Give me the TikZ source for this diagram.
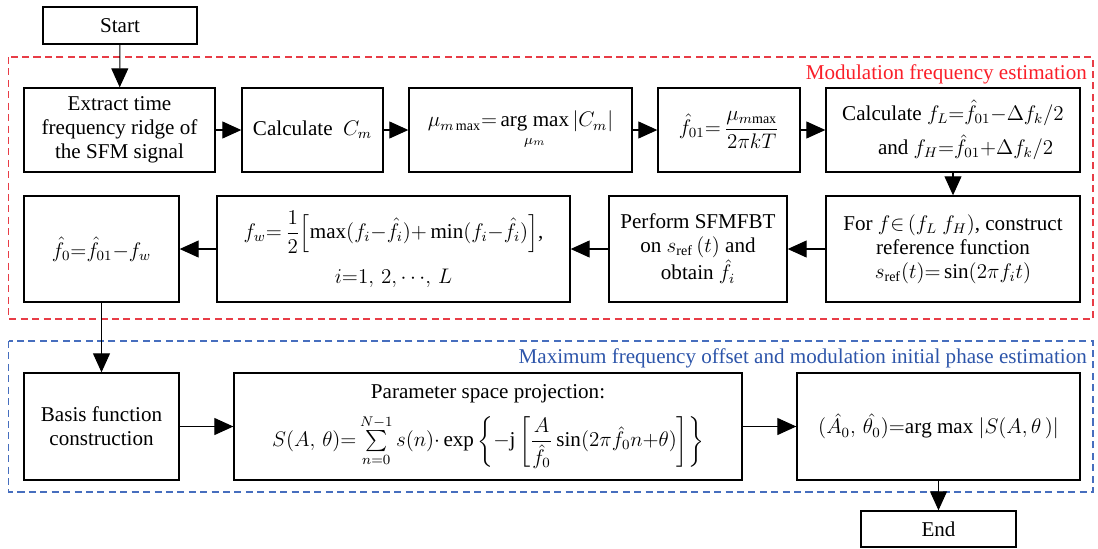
\documentclass[tikz,border=0pt]{standalone}
\usepackage{amsmath}
\usepackage{fontspec}
\setmainfont{Liberation Serif}
\usetikzlibrary{arrows.meta}
\definecolor{redgrp}{RGB}{232,60,70}
\definecolor{bluegrp}{RGB}{70,110,190}
\definecolor{redtxt}{RGB}{250,30,40}
\definecolor{bluetxt}{RGB}{45,85,170}

\begin{document}
\begin{tikzpicture}[x=0.02cm,y=-0.02cm,
      font=\fontsize{12}{13.6}\selectfont,
      box/.style={draw,line width=0.8pt,align=center,inner sep=2pt},
      row1/.style={box,minimum height=1.68cm},
      row2/.style={box,minimum height=2.12cm},
      row3/.style={box,minimum height=2.14cm},
      arr/.style={line width=0.6pt,-{Triangle[length=0.38cm,width=0.34cm]}},
      group/.style={dashed,line width=0.6pt,dash pattern=on 4pt off 2.5pt}]
      \useasboundingbox (0,0) rectangle (1098,548);
      \draw[group,redgrp] (8.6,57) rectangle (1093,319);
      \draw[group,bluegrp] (8.6,341) rectangle (1093,492);
      \node[anchor=base east,text=redtxt] (lblmod) at (1093,79) {Modulation frequency estimation};
      \node[anchor=base east,text=bluetxt] (lblphase) at (1093,363) {Maximum frequency offset and modulation initial phase estimation};
      \node[box,minimum width=3.08cm,minimum height=0.74cm] (start) at (120,25.5) {Start};
      \node[row1,minimum width=3.82cm] (ridge) at (119.5,130) {Extract time\\frequency ridge of\\the SFM signal};
      \node[row1,minimum width=2.82cm] (cm) at (312.5,130) {Calculate~~$C_m$};
      \node[row1,minimum width=4.46cm] (mumax) at (520.5,130)
        {$\mu_{m\,\mathrm{max}}{=}\mathop{\mathrm{arg\ max}}\limits_{\mu_m}|C_m|$};
      \node[row1,minimum width=2.84cm] (f01) at (729,130)
        {$\hat{f}_{01}{=}\,\dfrac{\mu_{m\mathrm{max}}}{2\pi kT}$};
      \node[row1,minimum width=5.08cm] (flh) at (953,130)
        {Calculate $f_L{=}\hat{f}_{01}{-}\Delta f_k/2$\\[4pt]
         \hspace*{1.2em}and $f_H{=}\hat{f}_{01}{+}\Delta f_k/2$};
      \node[row2,minimum width=5.08cm] (sref) at (953,249)
        {For $f{\in}\,(f_L\ f_H)$, construct\\reference function\\
         $s_{\mathrm{ref}}(t){=}\sin(2\pi f_it)$};
      \node[row2,minimum width=3.56cm] (sfmfbt) at (698,249)
        {Perform SFMFBT\\on $s_{\mathrm{ref}}\,(t)$ and\\obtain $\hat{f}_i$};
      \node[row2,minimum width=7.06cm] (fw) at (393.5,249)
        {$f_w{=}\,\dfrac{1}{2}\Big[\!\max(f_i{-}\hat{f}_i){+}\min(f_i{-}\hat{f}_i)\Big]$,\\[8pt]
         $i{=}1,\,2,{\cdots},\,L$};
      \node[row2,minimum width=3.10cm] (f0) at (101.5,249) {$\hat{f}_0{=}\hat{f}_{01}{-}f_w$};
      \node[row3,minimum width=3.10cm] (basis) at (101.5,426.5) {Basis function\\construction};
      \node[row3,minimum width=10.16cm] (proj) at (488,426.5)
        {Parameter space projection:\\[6pt]
         $S(A,\,\theta){=}\sum\limits_{n=0}^{N-1}s(n){\cdot}\exp\left\{-\mathrm{j}\left[\dfrac{A}{\hat{f}_0}\sin(2\pi\hat{f}_0n{+}\theta)\right]\right\}$};
      \node[row3,minimum width=5.66cm] (argmax) at (938.5,426.5)
        {$(\hat{A_0},\,\hat{\theta_0}){=}\mathrm{arg\ max}\ |S(A,\theta\,)|$};
      \node[box,minimum width=3.10cm,minimum height=0.72cm] (end) at (938.5,529) {End};
      \draw[arr] (start) -- (ridge);
      \draw[arr] (ridge) -- (cm);
      \draw[arr] (cm) -- (mumax);
      \draw[arr] (mumax) -- (f01);
      \draw[arr] (f01) -- (flh);
      \draw[arr] (flh) -- (sref);
      \draw[arr] (sref) -- (sfmfbt);
      \draw[arr] (sfmfbt) -- (fw);
      \draw[arr] (fw) -- (f0);
      \draw[arr] (f0) -- (basis);
      \draw[arr] (basis) -- (proj);
      \draw[arr] (proj) -- (argmax);
      \draw[arr] (argmax) -- (end);
    \end{tikzpicture}
\end{document}
